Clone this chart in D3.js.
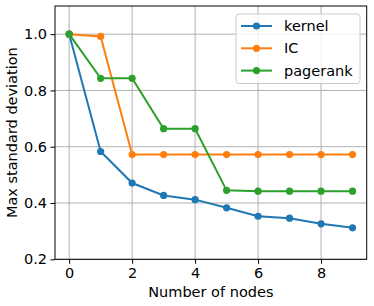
<!DOCTYPE html>
<html>
<head>
<meta charset="utf-8">
<script src="https://cdn.jsdelivr.net/npm/d3@7"></script>
<style>
	body { margin: 0; background: #fff; }
	svg text { font-family: "DejaVu Sans", sans-serif; fill: #000; }
</style>
</head>
<body>
<div id="chart"></div>
<script>
// DATA
const nodes = [0, 1, 2, 3, 4, 5, 6, 7, 8, 9];
const kernel = [1.0, 0.583, 0.471, 0.427, 0.412, 0.383, 0.353, 0.346, 0.326, 0.312];
const ic = [1.0, 0.992, 0.572, 0.572, 0.572, 0.572, 0.572, 0.572, 0.572, 0.572];
const pagerank = [1.0, 0.843, 0.843, 0.664, 0.664, 0.445, 0.442, 0.442, 0.442, 0.442];
const seriesNames = ["kernel", "IC", "pagerank"];
const seriesColors = ["#1f77b4", "#ff7f0e", "#2ca02c"];
const xTicks = [0, 2, 4, 6, 8];
const yTicks = [0.2, 0.4, 0.6, 0.8, 1.0];

// SVG DIMENSIONS
const width = 374, height = 306;
const margin = { top: 6, right: 7.3, bottom: 46.7, left: 55 };
const fontSize = "14.5px";
const svg = d3.select("#chart").append("svg")
	.attr("width", width)
	.attr("height", height);

// SCALES
const x = d3.scaleLinear().domain([-0.45, 9.45]).range([margin.left, width - margin.right]);
const y = d3.scaleLinear().domain([0.2, 1.1]).range([height - margin.bottom, margin.top]);

// GRID
const grid = svg.append("g");
grid.selectAll(".gx").data(xTicks).enter().append("line")
	.attr("x1", d => x(d)).attr("x2", d => x(d))
	.attr("y1", margin.top).attr("y2", height - margin.bottom)
	.attr("stroke", "#b0b0b0").attr("stroke-width", 1);
grid.selectAll(".gy").data(yTicks).enter().append("line")
	.attr("y1", d => y(d)).attr("y2", d => y(d))
	.attr("x1", margin.left).attr("x2", width - margin.right)
	.attr("stroke", "#b0b0b0").attr("stroke-width", 1);

// LINES + MARKERS
const series = [kernel, ic, pagerank];
const line = d3.line().x((d, i) => x(nodes[i])).y(d => y(d));
series.forEach((vals, k) => {
	svg.append("path")
		.attr("d", line(vals))
		.attr("fill", "none")
		.attr("stroke", seriesColors[k])
		.attr("stroke-width", 2);
	svg.append("g").selectAll("circle").data(vals).enter().append("circle")
		.attr("cx", (d, i) => x(nodes[i]))
		.attr("cy", d => y(d))
		.attr("r", 3.6)
		.attr("fill", seriesColors[k]);
});

// AXES
const xAxis = svg.append("g")
	.attr("transform", `translate(0,${height - margin.bottom})`)
	.call(d3.axisBottom(x).tickValues(xTicks).tickFormat(d3.format("d")).tickSize(4.5).tickPadding(3.5));
const yAxis = svg.append("g")
	.attr("transform", `translate(${margin.left},0)`)
	.call(d3.axisLeft(y).tickValues(yTicks).tickFormat(d3.format(".1f")).tickSize(4.5).tickPadding(3.5));
[xAxis, yAxis].forEach(a => {
	a.select(".domain").remove();
	a.selectAll("text").style("font-size", fontSize).attr("fill", "#000");
	a.selectAll("line").attr("stroke", "#000").attr("stroke-width", 1);
});

// SPINES
svg.append("rect")
	.attr("x", margin.left).attr("y", margin.top)
	.attr("width", width - margin.left - margin.right)
	.attr("height", height - margin.top - margin.bottom)
	.attr("fill", "none").attr("stroke", "#000").attr("stroke-width", 1);

// AXIS LABELS
svg.append("text")
	.attr("x", (margin.left + width - margin.right) / 2)
	.attr("y", 296.5)
	.attr("text-anchor", "middle")
	.style("font-size", fontSize)
	.text("Number of nodes");
svg.append("text")
	.attr("transform", `translate(16.5,${(margin.top + height - margin.bottom) / 2}) rotate(-90)`)
	.attr("text-anchor", "middle")
	.style("font-size", fontSize)
	.text("Max standard deviation");

// LEGEND
const legend = svg.append("g").attr("transform", "translate(236,14)");
legend.append("rect")
	.attr("width", 124).attr("height", 69.5)
	.attr("rx", 3)
	.attr("fill", "#fff").attr("fill-opacity", 0.8)
	.attr("stroke", "#cccccc").attr("stroke-width", 1);
seriesNames.forEach((name, k) => {
	const row = legend.append("g").attr("transform", `translate(0,${12 + k * 22.3})`);
	row.append("line")
		.attr("x1", 5).attr("x2", 36)
		.attr("stroke", seriesColors[k]).attr("stroke-width", 2);
	row.append("circle").attr("cx", 20.5).attr("r", 3.6).attr("fill", seriesColors[k]);
	row.append("text")
		.attr("x", 48).attr("dy", "0.35em")
		.style("font-size", fontSize)
		.text(name);
});
</script>
</body>
</html>
